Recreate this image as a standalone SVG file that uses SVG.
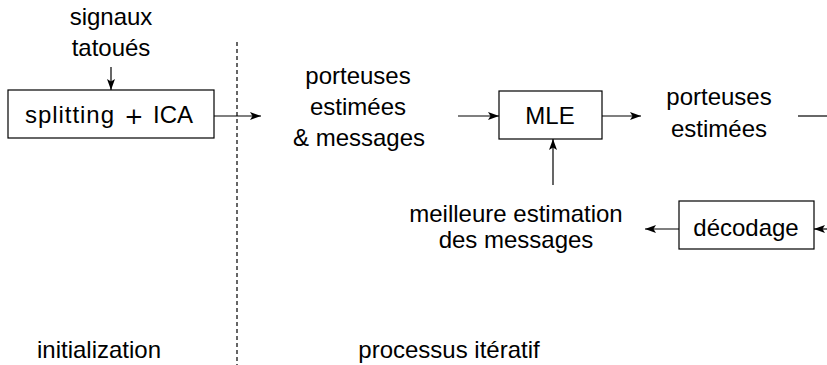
<svg xmlns="http://www.w3.org/2000/svg" width="827" height="365" viewBox="0 0 827 365">
<defs>
<marker id="ah" viewBox="0 0 11 8" refX="11" refY="4" markerWidth="11" markerHeight="8" markerUnits="userSpaceOnUse" orient="auto">
<path d="M0,0 L11,4 L0,8 L2.5,4 Z" fill="#000"/>
</marker>
</defs>
<style>
text{font-family:"Liberation Sans","DejaVu Sans",sans-serif;font-size:24px;fill:#000;text-anchor:middle}
.box{fill:#fff;stroke:#000;stroke-width:1.2}
.c{stroke:#000;stroke-width:1.2;fill:none}
.a{marker-end:url(#ah)}
.dash{stroke:#000;stroke-width:1.2;stroke-dasharray:4 3}
.plus{font-family:"DejaVu Sans","Liberation Sans",sans-serif;font-size:23px}
</style>
<rect width="827" height="365" fill="#fff"/>
<g id="connectors">
<line class="c a" x1="111" y1="67" x2="111" y2="90"/>
<line class="c a" x1="214" y1="116" x2="261" y2="116"/>
<line class="c a" x1="458" y1="116" x2="499" y2="116"/>
<line class="c a" x1="602" y1="116" x2="641" y2="116"/>
<line class="c" x1="798" y1="116" x2="827" y2="116"/>
<line class="c a" x1="553" y1="185" x2="553" y2="139"/>
<line class="c a" x1="679" y1="229" x2="645" y2="229"/>
<line class="c a" x1="827" y1="229" x2="814" y2="229"/>
<line class="dash" x1="237" y1="42" x2="237" y2="365"/>
</g>
<g id="signaux"><text x="111" y="25">signaux</text><text x="111" y="56">tatoués</text></g>
<g id="splitting"><rect class="box" x="8" y="90" width="206" height="48"/><text style="text-anchor:start" x="25" y="123" textLength="89" lengthAdjust="spacing">splitting</text><text class="plus" x="134" y="124">+</text><text style="text-anchor:start" x="153" y="123">ICA</text></g>
<g id="porteuses-messages"><text x="358" y="84">porteuses</text><text x="358" y="115">estimées</text><text x="359" y="146">&amp; messages</text></g>
<g id="mle"><rect class="box" x="499" y="91" width="103" height="48"/><text x="550" y="124">MLE</text></g>
<g id="porteuses-estimees"><text x="719" y="105">porteuses</text><text x="719" y="137">estimées</text></g>
<g id="meilleure"><text x="516" y="222">meilleure estimation</text><text x="516" y="248">des messages</text></g>
<g id="decodage"><rect class="box" x="679" y="201" width="135" height="48"/><text x="746" y="236">décodage</text></g>
<g id="initialization"><text x="99" y="358">initialization</text></g>
<g id="processus"><text x="449" y="358">processus itératif</text></g>
</svg>
